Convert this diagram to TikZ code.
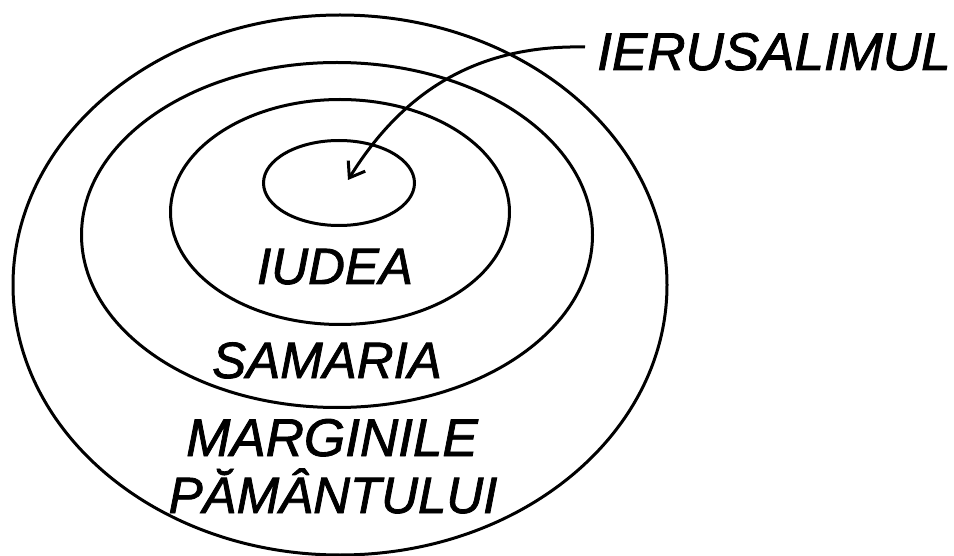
\documentclass[tikz,border=0pt]{standalone}
\usepackage{fontspec}
\setmainfont{Liberation Sans}
\newfontfamily\hand[FakeBold=1.6]{Liberation Sans Italic}
\usetikzlibrary{shapes.geometric,arrows.meta}
\tikzset{
  ring/.style={draw, ellipse, line width=3pt, inner sep=0pt},
  lbl/.style={font=\fontsize{51}{56}\hand, inner sep=0pt, anchor=base},
  pointer/.style={line width=3pt, -{Straight Barb[length=14pt,width=20pt,line width=3pt]}}
}
\begin{document}
\begin{tikzpicture}[x=1pt,y=-1pt]
\useasboundingbox (0,0) rectangle (954,556);
\node[ring, minimum width=654pt, minimum height=540pt] (earth) at (340,285) {};
\node[ring, minimum width=511pt, minimum height=345pt] (samaria) at (337,235) {};
\node[ring, minimum width=339pt, minimum height=225pt] (iudea) at (340,212) {};
\node[ring, minimum width=151pt, minimum height=85pt] (ierus) at (339,183) {};
\node[lbl, anchor=base west, font=\fontsize{53}{56}\hand] (tier) at (597,70) {IERUSALIMUL};
\node[lbl] (tiud) at (335,284) {IUDEA};
\node[lbl] (tsam) at (327,378) {SAMARIA};
\node[lbl, font=\fontsize{53}{56}\hand] (tmar) at (332,456) {MARGINILE};
\node[lbl] (tpam) at (333,513) {PĂMÂNTULUI};
\coordinate (tip) at (348,180);
\coordinate (start) at (585,47);
\draw[pointer] (start) .. controls (490,45) and (410,80) .. (tip);
\end{tikzpicture}
\end{document}
